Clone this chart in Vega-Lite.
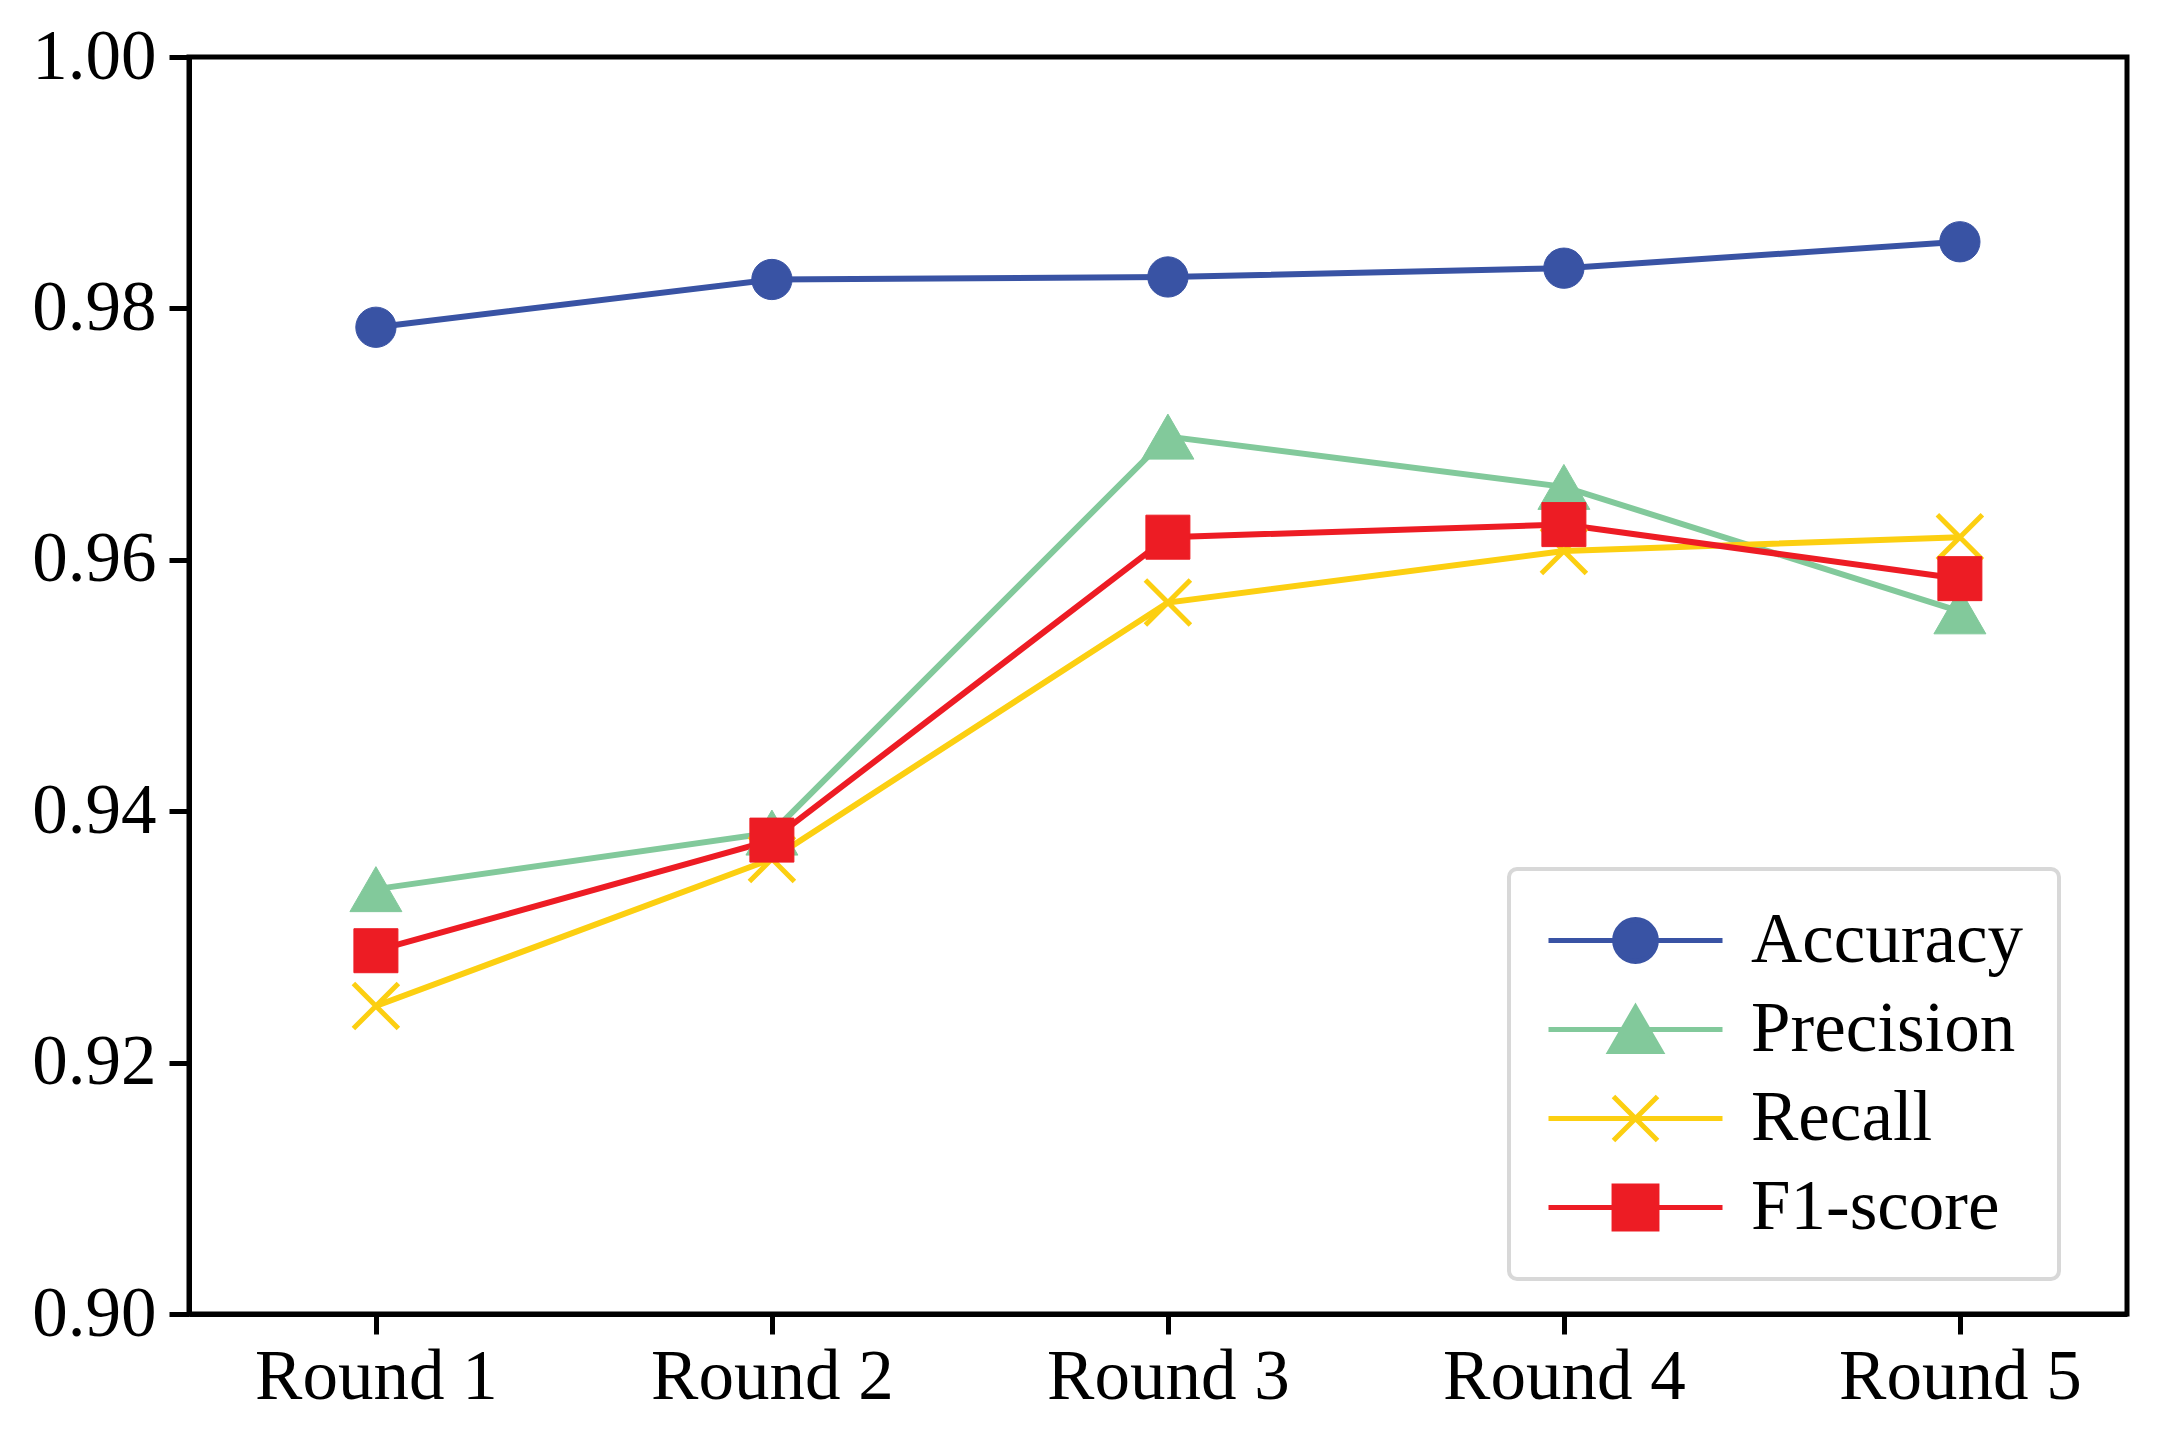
{
  "$schema": "https://vega.github.io/schema/vega-lite/v6.json",
  "autosize": {"type": "none"},
  "padding": {"left": 189, "top": 57, "right": 32, "bottom": 125},
  "width": 1938,
  "height": 1257,
  "background": "white",
  "config": {
    "font": "Liberation Serif",
    "view": {"stroke": "black", "strokeWidth": 5},
    "axis": {
      "domainColor": "black", "domainWidth": 5, "tickColor": "black", "tickWidth": 5, "tickSize": 20,
      "labelFont": "Liberation Serif", "labelFontSize": 71, "labelColor": "black", "labelLimit": 600, "grid": false, "title": null
    }
  },
  "data": {"values": [
    {"round": 1, "series": "Accuracy", "value": 0.9785},
    {"round": 2, "series": "Accuracy", "value": 0.9823},
    {"round": 3, "series": "Accuracy", "value": 0.9825},
    {"round": 4, "series": "Accuracy", "value": 0.9832},
    {"round": 5, "series": "Accuracy", "value": 0.9853},
    {"round": 1, "series": "Precision", "value": 0.9338},
    {"round": 2, "series": "Precision", "value": 0.9383},
    {"round": 3, "series": "Precision", "value": 0.9698},
    {"round": 4, "series": "Precision", "value": 0.9658},
    {"round": 5, "series": "Precision", "value": 0.9559},
    {"round": 1, "series": "Recall", "value": 0.9245},
    {"round": 2, "series": "Recall", "value": 0.9362},
    {"round": 3, "series": "Recall", "value": 0.9566},
    {"round": 4, "series": "Recall", "value": 0.9607},
    {"round": 5, "series": "Recall", "value": 0.9618},
    {"round": 1, "series": "F1-score", "value": 0.9289},
    {"round": 2, "series": "F1-score", "value": 0.9377},
    {"round": 3, "series": "F1-score", "value": 0.9618},
    {"round": 4, "series": "F1-score", "value": 0.9628},
    {"round": 5, "series": "F1-score", "value": 0.9585}
  ]},
  "encoding": {
    "x": {"field": "round", "type": "quantitative",
      "scale": {"domain": [0.528, 5.422], "nice": false, "zero": false},
      "axis": {"values": [1, 2, 3, 4, 5], "labelExpr": "'Round ' + datum.value", "labelPadding": 8, "labelFlush": false}},
    "y": {"field": "value", "type": "quantitative",
      "scale": {"domain": [0.9, 1.0], "nice": false, "zero": false},
      "axis": {"values": [0.9, 0.92, 0.94, 0.96, 0.98, 1.0], "format": ".2f", "labelPadding": 13, "labelFlush": false}},
    "color": {"field": "series", "type": "nominal",
      "scale": {"domain": ["Accuracy", "Precision", "Recall", "F1-score"], "range": ["#3953A4", "#82C99B", "#FCCF11", "#ED1C24"]},
      "legend": {
        "title": null, "orient": "none", "legendX": 1320, "legendY": 812,
        "padding": 36, "rowPadding": 17, "symbolSize": 3364, "symbolOffset": 55, "labelOffset": 80,
        "labelFontSize": 71, "labelFont": "Liberation Serif", "labelColor": "black", "labelLimit": 600,
        "labelExpr": "datum.label + '\u00a0'",
        "strokeColor": "#d8d8d8", "fillColor": "white", "cornerRadius": 8,
        "encode": {
          "legend": {"update": {"strokeWidth": {"value": 4}}},
          "symbols": {"update": {
            "shape": {"signal": "datum.value === 'Accuracy' ? 'M-3,0H3M0.72,0A0.72,0.72,0,1,1,-0.72,0A0.72,0.72,0,1,1,0.72,0Z' : datum.value === 'Precision' ? 'M-3,0H3M0,-0.76L0.88,0.76L-0.88,0.76Z' : datum.value === 'Recall' ? 'M-3,0H3M-0.76,-0.76L0.76,0.76M-0.76,0.76L0.76,-0.76' : 'M-3,0H3M-0.74,-0.74H0.74V0.74H-0.74Z'"},
            "stroke": {"signal": "datum.value === 'Accuracy' ? '#3953A4' : datum.value === 'Precision' ? '#82C99B' : datum.value === 'Recall' ? '#FCCF11' : '#ED1C24'"},
            "fill": {"signal": "datum.value === 'Accuracy' ? '#3953A4' : datum.value === 'Precision' ? '#82C99B' : datum.value === 'Recall' ? '#FCCF11' : '#ED1C24'"},
            "strokeWidth": {"value": 5},
            "opacity": {"value": 1}
          }}
        }
      }
    }
  },
  "layer": [
    {"mark": {"type": "line", "strokeWidth": 6}, "encoding": {"order": {"field": "round"}}},
    {"transform": [{"filter": "datum.series === 'Accuracy'"}],
     "mark": {"type": "point", "filled": true, "opacity": 1, "shape": "circle", "size": 1620, "strokeWidth": 1, "stroke": "#3953A4"}},
    {"transform": [{"filter": "datum.series === 'Precision'"}],
     "mark": {"type": "point", "filled": true, "opacity": 1, "shape": "triangle-up", "size": 2700, "strokeWidth": 1, "stroke": "#82C99B"}},
    {"transform": [{"filter": "datum.series === 'Recall'"}],
     "mark": {"type": "point", "filled": false, "opacity": 1, "shape": "M-1,-1L1,1M-1,1L1,-1", "size": 2025, "strokeWidth": 5}},
    {"transform": [{"filter": "datum.series === 'F1-score'"}],
     "mark": {"type": "point", "filled": true, "opacity": 1, "shape": "square", "size": 1936, "strokeWidth": 1, "stroke": "#ED1C24"}}
  ]
}
